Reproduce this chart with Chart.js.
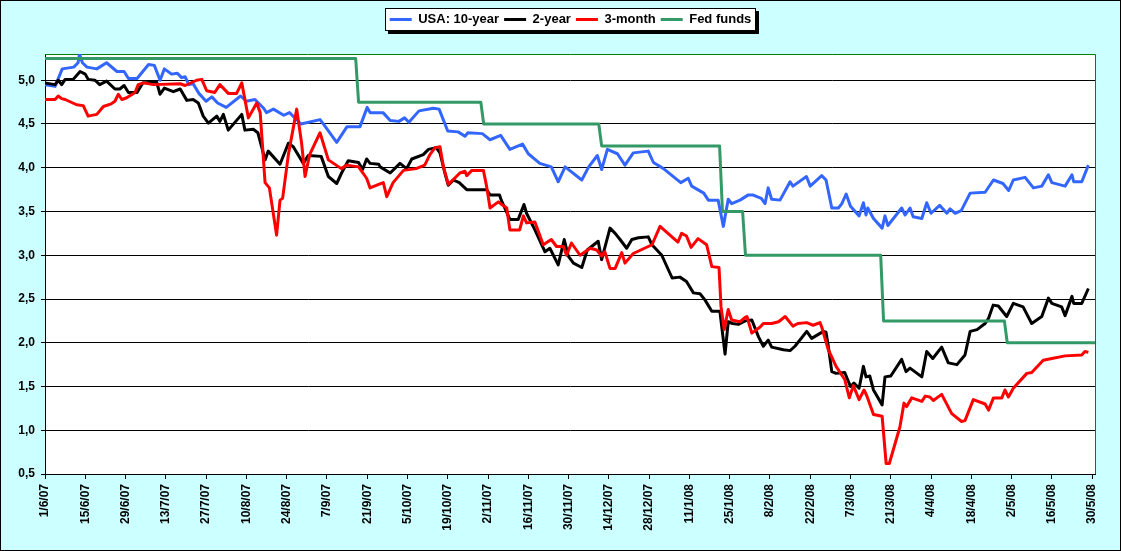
<!DOCTYPE html>
<html>
<head>
<meta charset="utf-8">
<script src="https://cdn.jsdelivr.net/npm/chart.js@4.4.1/dist/chart.umd.min.js"></script>
<style>
html,body{margin:0;padding:0;background:#CCFFFF;overflow:hidden;}
#wrap{width:1121px;height:551px;position:relative;}
</style>
</head>
<body>
<div id="wrap"><canvas id="c"></canvas></div>
<script>
// ---- data (x = days since 1/6/07) ----
const seriesNames = ['USA: 10-year', '2-year', '3-month', 'Fed funds'];
const xTickDays = [0,14,28,42,56,70,84,98,112,126,140,154,168,182,196,210,224,238,252,266,280,294,308,322,336,350,364];
const xTickLabels = ['1/6/07','15/6/07','29/6/07','13/7/07','27/7/07','10/8/07','24/8/07','7/9/07','21/9/07','5/10/07','19/10/07','2/11/07','16/11/07','30/11/07','14/12/07','28/12/07','11/1/08','25/1/08','8/2/08','22/2/08','7/3/08','21/3/08','4/4/08','18/4/08','2/5/08','16/5/08','30/5/08'];
const yTickValues = [0.5,1.0,1.5,2.0,2.5,3.0,3.5,4.0,4.5,5.0];

const tenYear = [[0,4.95],[3.5,4.93],[6,5.13],[10,5.15],[11.5,5.2],[12,5.3],[13,5.2],[14.6,5.15],[18,5.13],[21.4,5.2],[25,5.1],[27.5,5.1],[29,5.02],[32,5.02],[36,5.18],[38,5.17],[40,5.0],[41.5,5.13],[44,5.07],[46,5.08],[47.5,5.03],[48.7,5.04],[50,4.95],[51.5,4.96],[53.5,4.85],[56,4.76],[58,4.81],[60,4.74],[63,4.69],[68,4.82],[70,4.76],[73,4.78],[76,4.68],[77,4.63],[79.4,4.67],[83,4.6],[85,4.63],[89,4.5],[95.6,4.55],[97,4.49],[101.4,4.29],[105,4.47],[109.5,4.47],[112,4.69],[113,4.63],[117.5,4.63],[120,4.54],[123,4.53],[125,4.57],[126.5,4.52],[130,4.65],[135,4.68],[137,4.67],[140,4.42],[143.6,4.41],[146,4.36],[147,4.4],[152,4.39],[154.7,4.32],[158.4,4.37],[161.6,4.21],[166,4.27],[168,4.16],[172,4.05],[176,4.01],[178.4,3.84],[180.8,4.01],[186.6,3.86],[189,4.01],[192,4.14],[193.5,3.98],[195.5,4.21],[199,4.16],[201.6,4.03],[204.5,4.17],[209.7,4.19],[211.5,4.06],[215,3.99],[221,3.83],[223.6,3.88],[224.8,3.79],[229,3.71],[230.6,3.63],[234,3.63],[235.8,3.33],[237.5,3.64],[238.7,3.59],[241.6,3.63],[244.5,3.69],[246,3.69],[249,3.65],[250.3,3.59],[251.4,3.77],[252.6,3.64],[255.5,3.63],[259,3.84],[260,3.79],[264.7,3.9],[266,3.79],[270,3.91],[271.5,3.86],[273.5,3.54],[275.8,3.54],[277,3.59],[278.5,3.7],[280,3.56],[283,3.45],[284.5,3.6],[285.4,3.46],[286,3.54],[288,3.42],[291,3.31],[292,3.45],[293,3.34],[297.8,3.54],[299,3.46],[300.7,3.54],[301.8,3.44],[304.8,3.42],[306.5,3.6],[308,3.48],[311,3.57],[313.5,3.48],[314.6,3.53],[316.4,3.48],[318.5,3.51],[321.6,3.71],[326.8,3.72],[329.7,3.86],[333,3.82],[335,3.74],[336.6,3.86],[340.7,3.89],[343.6,3.77],[346.5,3.79],[348.8,3.92],[350,3.83],[354.6,3.79],[357,3.92],[357.6,3.84],[360.4,3.84],[362.7,4.03]];

const twoYear = [[0,4.97],[3.5,4.95],[4.6,5.0],[5.8,4.95],[7,5.01],[9.8,5.01],[12.2,5.1],[14,5.07],[15,5.01],[17.4,5.0],[19,4.95],[21.4,4.99],[24.3,4.9],[26,4.9],[27.5,4.94],[29,4.86],[32,4.86],[34,4.97],[38.8,4.98],[40,4.84],[41.5,4.91],[44.6,4.87],[47,4.9],[49.3,4.77],[51.5,4.78],[53.3,4.74],[55,4.59],[56.8,4.51],[59.7,4.59],[60.8,4.53],[62,4.61],[63.7,4.43],[68.4,4.61],[69.5,4.43],[72.4,4.44],[74,4.4],[76.5,4.09],[77.6,4.19],[81.7,4.04],[84.6,4.28],[86.3,4.24],[89.8,4.05],[91.5,4.14],[96,4.13],[98.5,3.9],[101.4,3.82],[103.1,3.94],[105.4,4.08],[109,4.06],[110.4,3.98],[111.8,4.1],[113,4.05],[116,4.04],[116.5,4.01],[120,3.94],[123.4,4.05],[125.7,3.99],[127.5,4.1],[131.5,4.15],[133.3,4.21],[136,4.23],[137.3,4.17],[139,3.94],[140.2,3.8],[142,3.86],[144,3.83],[146.6,3.75],[153.5,3.75],[154.7,3.69],[158,3.69],[158.6,3.63],[161.6,3.41],[164.5,3.41],[166.5,3.58],[167.4,3.48],[170.3,3.29],[173.8,3.04],[175.5,3.08],[178.4,2.89],[180.5,3.18],[181.9,2.99],[183.7,2.91],[186.6,2.86],[188.5,3.06],[192.3,3.16],[193.5,2.95],[196.4,3.31],[198.2,3.25],[199.9,3.18],[202.2,3.08],[204,3.18],[206.3,3.2],[209.7,3.21],[211,3.12],[214.4,3.0],[218,2.74],[220.7,2.75],[223,2.7],[225.4,2.57],[227.7,2.56],[229.4,2.49],[231.8,2.36],[234.6,2.36],[236.4,1.87],[237.5,2.24],[239,2.22],[241,2.21],[243.4,2.25],[245.7,2.26],[248,2.07],[249.7,1.96],[251.4,2.03],[252.6,1.95],[256.7,1.92],[259,1.91],[260.7,1.96],[264.8,2.13],[266.5,2.05],[270.6,2.13],[271.5,2.12],[272.3,1.96],[273.5,1.67],[275,1.65],[278,1.66],[280,1.5],[281.2,1.54],[283,1.48],[284.5,1.73],[285.4,1.61],[286.7,1.62],[288,1.46],[291,1.29],[292,1.61],[294,1.62],[297.8,1.81],[299.3,1.67],[300.7,1.71],[304.8,1.61],[306.5,1.9],[308.6,1.82],[311.7,1.95],[314,1.77],[317,1.75],[319.8,1.86],[321.6,2.13],[324,2.15],[326.8,2.22],[328,2.28],[329.6,2.43],[331.4,2.42],[334.3,2.3],[336.6,2.45],[340,2.41],[343,2.22],[346.5,2.3],[348.8,2.51],[350,2.45],[353.4,2.41],[354.6,2.31],[357,2.53],[357.6,2.45],[360.4,2.45],[362.7,2.62]];

const threeMonth = [[0,4.78],[3.5,4.78],[4.6,4.82],[5.8,4.79],[7,4.78],[11,4.72],[13.3,4.71],[15,4.59],[18,4.61],[20.3,4.7],[23,4.73],[24.3,4.76],[25.5,4.84],[26.7,4.78],[28.4,4.8],[31.3,4.86],[32.4,4.95],[34.2,4.97],[37.7,4.95],[47,4.96],[48.7,4.94],[52.7,5.0],[54.5,5.01],[56.2,4.88],[59,4.86],[60.8,4.95],[63.7,4.85],[66.6,4.85],[68.4,4.97],[70.7,4.57],[73.6,4.74],[74.8,4.63],[76.5,3.83],[78,3.77],[80.5,3.23],[81.7,3.63],[82.6,3.65],[84.6,4.15],[87.5,4.67],[89.2,4.28],[90.4,3.9],[92,4.15],[95.6,4.4],[98.5,4.09],[103,3.99],[104.9,4.03],[109,4.01],[111.8,3.88],[113,3.77],[116,3.81],[117.6,3.83],[118.8,3.67],[121,3.83],[124.6,3.97],[129,3.99],[132,4.03],[133.8,4.15],[135.6,4.23],[137.3,4.24],[138.5,4.01],[140.2,3.81],[143,3.9],[144.2,3.94],[146,3.96],[146.6,3.91],[148.4,3.97],[152.4,3.97],[153.5,3.79],[154.7,3.54],[157.6,3.61],[158.8,3.58],[160.5,3.54],[161.6,3.29],[165,3.29],[166.3,3.45],[167.4,3.37],[170.3,3.38],[173.2,3.12],[176,3.18],[177.8,3.1],[180.2,3.1],[181.3,3.0],[183,3.14],[186,3.0],[189.5,3.08],[191.8,3.06],[193.5,2.99],[194.6,3.04],[196.4,2.85],[198.2,2.85],[200.5,3.03],[201.6,2.91],[204.5,3.02],[211,3.12],[213.8,3.33],[220,3.15],[221.3,3.25],[223,3.22],[224.6,3.09],[227,3.19],[230,3.12],[231.8,2.87],[234.3,2.86],[235,2.41],[236.1,2.15],[237.5,2.38],[238.7,2.26],[241.6,2.24],[243.4,2.29],[244,2.3],[245.7,2.11],[248.6,2.18],[249.7,2.22],[252.6,2.22],[255,2.24],[257.3,2.3],[260,2.19],[261.7,2.22],[264.8,2.23],[267,2.2],[269.4,2.23],[270,2.18],[272.3,1.92],[275,1.73],[278,1.58],[279.6,1.37],[281,1.51],[283,1.35],[284.7,1.46],[285.6,1.4],[288,1.18],[291,1.16],[292.4,0.62],[293.5,0.62],[297.2,1.04],[298.6,1.31],[299.5,1.27],[301.3,1.37],[304.8,1.33],[306,1.39],[307.6,1.38],[308.8,1.34],[311.7,1.41],[315.2,1.19],[318.6,1.1],[319.8,1.11],[322.7,1.35],[326.8,1.3],[328,1.23],[329.7,1.37],[332.6,1.37],[333.7,1.46],[334.9,1.38],[336.6,1.48],[341.3,1.65],[343,1.66],[347,1.8],[350,1.82],[354.6,1.85],[360.4,1.86],[361.5,1.9],[362.7,1.89]];

const fedFunds = [[0,5.25],[108,5.25],[109,4.75],[151.5,4.75],[152.5,4.5],[192.5,4.5],[193.5,4.25],[234.5,4.25],[235.5,3.5],[242.5,3.5],[243.5,3.0],[290.5,3.0],[291.5,2.25],[333.5,2.25],[334.5,2.0],[365,2.0]];

const seriesColors = ['#3366FF', '#000000', '#FF0000', '#339966'];
// ---------------------------------------

const FONT = "'Liberation Sans', Arial, sans-serif";
const toXY = arr => arr.map(p => ({x: p[0], y: p[1]}));
const allSeries = [tenYear, twoYear, threeMonth, fedFunds];

const framePlugin = {
  id: 'frame',
  afterLayout(chart) {
    const lg = chart.legend;
    if (lg) { lg.left += 23; lg.right += 23; }
  },
  beforeDraw(chart) {
    const {ctx, chartArea: a, width, height} = chart;
    ctx.save();
    ctx.fillStyle = '#CCFFFF';
    ctx.fillRect(0, 0, width, height);
    ctx.fillStyle = '#FFFFFF';
    ctx.fillRect(a.left, a.top, a.right - a.left, a.bottom - a.top);
    ctx.strokeStyle = '#000';
    ctx.lineWidth = 1;
    ctx.strokeRect(0.5, 0.5, width - 1, height - 1);
    const hb = chart.legend && chart.legend.legendHitBoxes;
    if (hb && hb.length) {
      const last = hb[hb.length - 1];
      const x0 = Math.round(hb[0].left) - 5;
      const x1 = Math.round(last.left + last.width) + 5;
      const y0 = Math.round(hb[0].top) - 5;
      const y1 = Math.round(hb[0].top + hb[0].height) + 5;
      ctx.fillStyle = '#000';
      ctx.fillRect(x0 + 3, y0 + 3, x1 - x0, y1 - y0);
      ctx.fillStyle = '#FFF';
      ctx.fillRect(x0, y0, x1 - x0, y1 - y0);
      ctx.strokeStyle = '#000';
      ctx.strokeRect(x0 + 0.5, y0 + 0.5, x1 - x0 - 1, y1 - y0 - 1);
    }
    ctx.restore();
  },
  beforeDatasetsDraw(chart) {
    const {ctx, chartArea: a} = chart;
    ctx.save();
    ctx.strokeStyle = '#008000';
    ctx.lineWidth = 1;
    ctx.beginPath();
    ctx.moveTo(a.left, Math.round(a.top) + 0.5);
    ctx.lineTo(Math.round(a.right) + 0.5, Math.round(a.top) + 0.5);
    ctx.lineTo(Math.round(a.right) + 0.5, a.bottom);
    ctx.stroke();
    ctx.restore();
  }
};

new Chart(document.getElementById('c'), {
  type: 'line',
  data: {
    datasets: seriesNames.map((name, i) => ({
      label: name,
      data: toXY(allSeries[i]),
      borderColor: seriesColors[i],
      backgroundColor: seriesColors[i],
      borderWidth: 3,
      pointRadius: 0,
      pointHoverRadius: 0,
      tension: 0,
      fill: false,
      borderJoinStyle: 'round',
      order: 4 - i
    }))
  },
  options: {
    responsive: true,
    maintainAspectRatio: false,
    animation: false,
    parsing: true,
    layout: { padding: { top: 8, left: 0, right: 26, bottom: 0 } },
    plugins: {
      tooltip: { enabled: false },
      title: {
        display: true, text: '', weight: 500,
        font: { size: 10, lineHeight: 1 },
        padding: { top: 4, bottom: 4 }
      },
      legend: {
        display: true,
        position: 'top',
        labels: {
          usePointStyle: true,
          pointStyle: 'line',
          pointStyleWidth: 22,
          padding: 5,
          color: '#000',
          font: { family: FONT, size: 13, weight: 'bold' },
          sort: (a, b) => a.datasetIndex - b.datasetIndex
        }
      }
    },
    scales: {
      x: {
        type: 'linear',
        min: 0,
        max: 365,
        afterFit(scale) { scale.height = 77; },
        afterBuildTicks(scale) { scale.ticks = xTickDays.map(v => ({value: v})); },
        grid: { display: true, drawOnChartArea: false, drawTicks: true, tickLength: 5, color: '#000', lineWidth: 1 },
        border: { display: true, color: '#000', width: 1 },
        ticks: {
          autoSkip: false,
          minRotation: 90,
          maxRotation: 90,
          padding: 5,
          color: '#000',
          font: { family: FONT, size: 12, weight: 'bold' },
          callback: (v) => { const k = xTickDays.indexOf(v); return k >= 0 ? xTickLabels[k] : ''; }
        }
      },
      y: {
        type: 'linear',
        min: 0.5,
        max: 5.3,
        afterFit(scale) { scale.width = 45; },
        afterBuildTicks(scale) { scale.ticks = yTickValues.map(v => ({value: v})); },
        grid: { display: true, drawOnChartArea: true, drawTicks: true, tickLength: 4, color: '#000', lineWidth: 1 },
        border: { display: true, color: '#000', width: 1 },
        ticks: {
          padding: 6,
          color: '#000',
          font: { family: FONT, size: 12, weight: 'bold' },
          callback: (v) => Number(v).toFixed(1).replace('.', ',')
        }
      }
    }
  },
  plugins: [framePlugin]
});
</script>
</body>
</html>
